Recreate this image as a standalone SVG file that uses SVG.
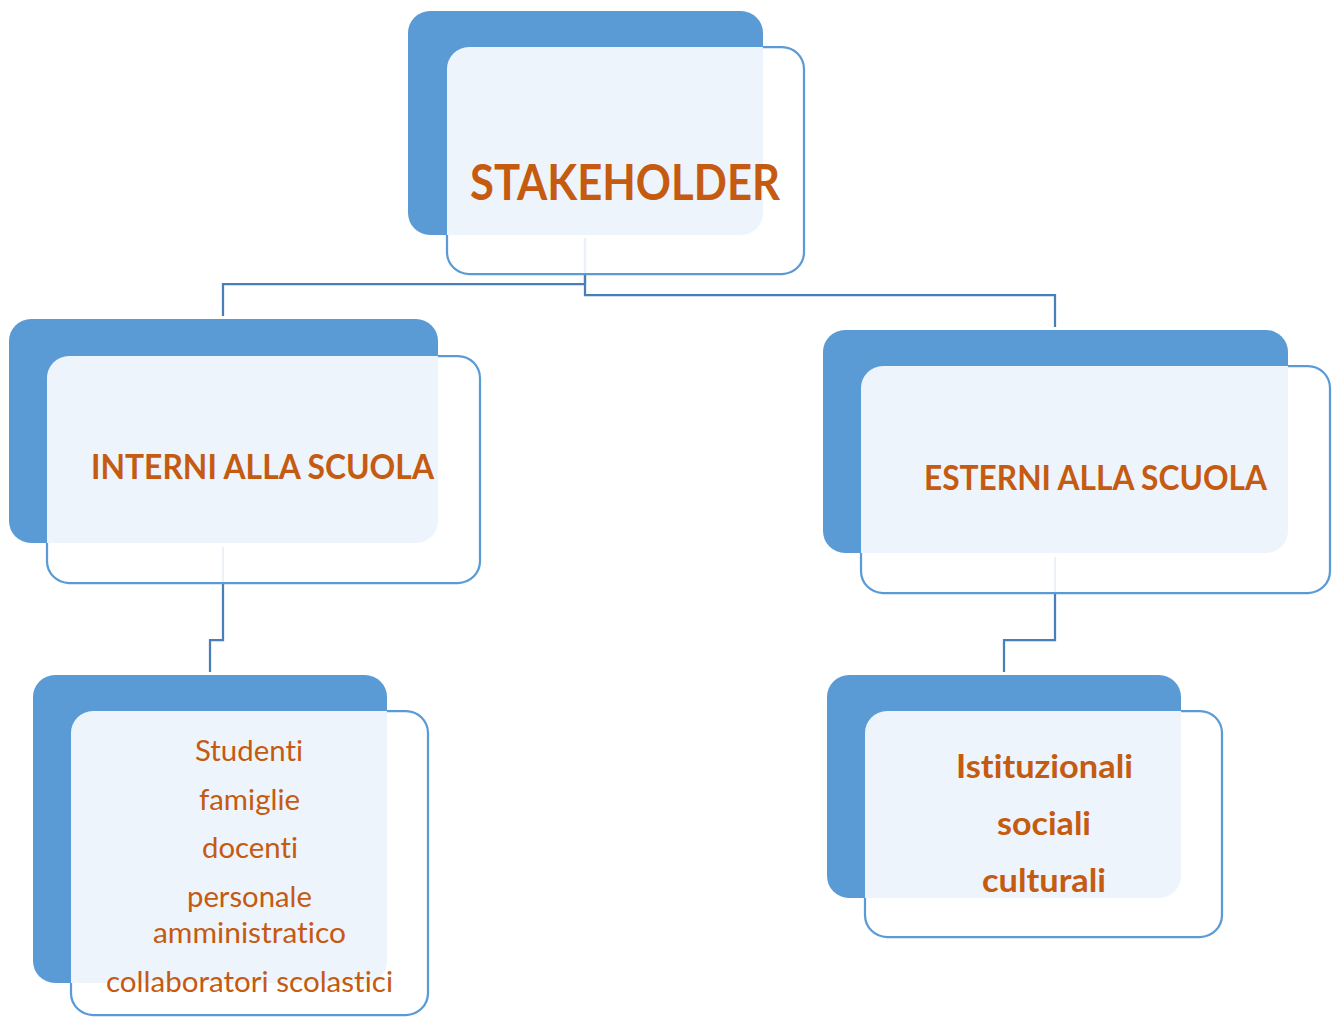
<svg xmlns="http://www.w3.org/2000/svg" width="1336" height="1017" viewBox="0 0 1336 1017">
<style>
.back{fill:#5B9BD5;}
.over{fill:#FFFFFF;fill-opacity:0.89;}
.frame{fill:none;stroke:#5B9BD5;stroke-width:2.25;}
.conn{fill:none;stroke:#4A7EB8;stroke-width:2.25;}
.t{font-family:Lato,"Open Sans","Liberation Sans",sans-serif;fill:#C55A11;text-anchor:middle;font-variant-ligatures:none;font-feature-settings:"liga" 0,"clig" 0;}
.b{font-weight:bold;}
</style>
<defs>
<mask id="m1" maskUnits="userSpaceOnUse" x="0" y="0" width="1336" height="1017"><rect width="1336" height="1017" fill="#fff"/><rect x="408" y="11" width="355" height="224" rx="22" fill="#000"/></mask>
<mask id="m2" maskUnits="userSpaceOnUse" x="0" y="0" width="1336" height="1017"><rect width="1336" height="1017" fill="#fff"/><rect x="9" y="319" width="429" height="224" rx="22" fill="#000"/></mask>
<mask id="m3" maskUnits="userSpaceOnUse" x="0" y="0" width="1336" height="1017"><rect width="1336" height="1017" fill="#fff"/><rect x="823" y="330" width="465" height="223" rx="22" fill="#000"/></mask>
<mask id="m4" maskUnits="userSpaceOnUse" x="0" y="0" width="1336" height="1017"><rect width="1336" height="1017" fill="#fff"/><rect x="33" y="675" width="354" height="308" rx="22" fill="#000"/></mask>
<mask id="m5" maskUnits="userSpaceOnUse" x="0" y="0" width="1336" height="1017"><rect width="1336" height="1017" fill="#fff"/><rect x="827" y="675" width="354" height="223" rx="22" fill="#000"/></mask>
</defs>
<rect width="1336" height="1017" fill="#FFFFFF"/>
<g id="connectors">
<path class="conn" d="M585,238 V284 H223 V316"/>
<path class="conn" d="M585,238 V295 H1055 V327"/>
<path class="conn" d="M223,547 V640 H210 V672"/>
<path class="conn" d="M1055,557 V640 H1004 V672"/>
</g>
<g id="node-stakeholder">
<rect class="back" x="408" y="11" width="355" height="224" rx="22"/>
<rect class="over" x="447" y="47" width="357" height="227" rx="22"/>
<rect class="frame" x="447" y="47" width="357" height="227" rx="22" mask="url(#m1)"/>
<text class="t b" x="625" y="200" font-size="49" textLength="310" lengthAdjust="spacingAndGlyphs">STAKEHOLDER</text>
</g>
<g id="node-interni">
<rect class="back" x="9" y="319" width="429" height="224" rx="22"/>
<rect class="over" x="47" y="356" width="433" height="227" rx="22"/>
<rect class="frame" x="47" y="356" width="433" height="227" rx="22" mask="url(#m2)"/>
<text class="t b" x="262.5" y="479" font-size="33.5" textLength="343" lengthAdjust="spacingAndGlyphs">INTERNI ALLA SCUOLA</text>
</g>
<g id="node-esterni">
<rect class="back" x="823" y="330" width="465" height="223" rx="22"/>
<rect class="over" x="861" y="366" width="469" height="227" rx="22"/>
<rect class="frame" x="861" y="366" width="469" height="227" rx="22" mask="url(#m3)"/>
<text class="t b" x="1095.5" y="490" font-size="33.5" textLength="343" lengthAdjust="spacingAndGlyphs">ESTERNI ALLA SCUOLA</text>
</g>
<g id="node-interni-list">
<rect class="back" x="33" y="675" width="354" height="308" rx="22"/>
<rect class="over" x="71" y="711" width="357" height="304" rx="22"/>
<rect class="frame" x="71" y="711" width="357" height="304" rx="22" mask="url(#m4)"/>
<text class="t" x="249" y="761" font-size="28" textLength="108" lengthAdjust="spacingAndGlyphs">Studenti</text>
<text class="t" x="249.5" y="810" font-size="28" textLength="101" lengthAdjust="spacingAndGlyphs">famiglie</text>
<text class="t" x="250" y="858" font-size="28" textLength="96" lengthAdjust="spacingAndGlyphs">docenti</text>
<text class="t" x="249.5" y="907" font-size="28" textLength="125" lengthAdjust="spacingAndGlyphs">personale</text>
<text class="t" x="249.5" y="943" font-size="28" textLength="193" lengthAdjust="spacingAndGlyphs">amministratico</text>
<text class="t" x="249.5" y="992" font-size="28" textLength="287" lengthAdjust="spacingAndGlyphs">collaboratori scolastici</text>
</g>
<g id="node-esterni-list">
<rect class="back" x="827" y="675" width="354" height="223" rx="22"/>
<rect class="over" x="865" y="711" width="357" height="226" rx="22"/>
<rect class="frame" x="865" y="711" width="357" height="226" rx="22" mask="url(#m5)"/>
<text class="t b" x="1044.5" y="778" font-size="32" textLength="177" lengthAdjust="spacingAndGlyphs">Istituzionali</text>
<text class="t b" x="1044" y="835" font-size="32" textLength="94" lengthAdjust="spacingAndGlyphs">sociali</text>
<text class="t b" x="1044" y="892" font-size="32" textLength="124" lengthAdjust="spacingAndGlyphs">culturali</text>
</g>
</svg>
